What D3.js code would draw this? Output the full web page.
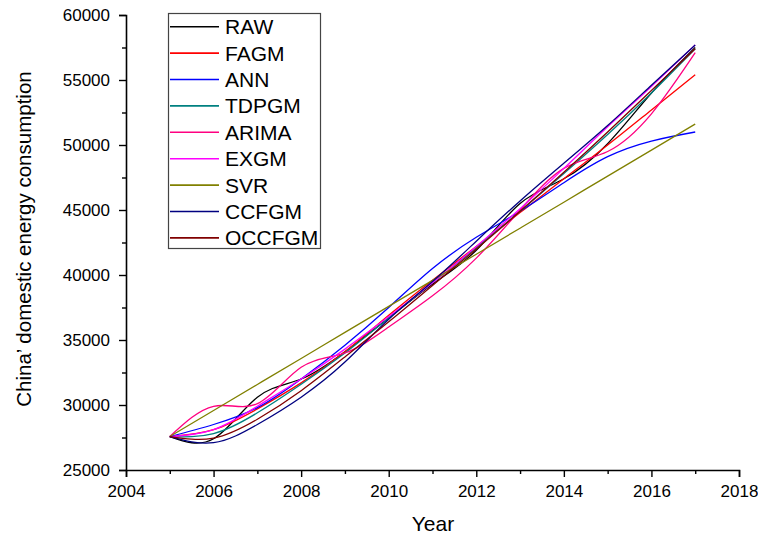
<!DOCTYPE html>
<html>
<head>
<meta charset="utf-8">
<script src="https://cdn.jsdelivr.net/npm/d3@7"></script>
<style>
  body { margin: 0; background: #fff; }
  text { font-family: Arial, "Liberation Sans", sans-serif; fill: #000; }
</style>
</head>
<body>
<script>
// data
var years = [2005, 2006, 2007, 2008, 2009, 2010, 2011, 2012, 2013, 2014, 2015, 2016, 2017];
var raw    = [27573, 27400, 30600, 32000, 34100, 36700, 39300, 41900, 45500, 47400, 50100, 54000, 57500];
var fagm   = [27573, 28100, 29700, 31700, 34100, 36900, 39600, 42200, 44800, 47400, 50000, 52700, 55400];
var ann    = [27573, 28500, 29800, 32000, 34600, 37500, 40500, 42900, 44900, 47100, 49100, 50300, 51000];
var tdpgm  = [27573, 27800, 29400, 31600, 34000, 36700, 39400, 42100, 44900, 47800, 50800, 54000, 57400];
var arima  = [27573, 29900, 30100, 32900, 34000, 36000, 38400, 41300, 45000, 48200, 49500, 52400, 57100];
var exgm   = [27573, 28100, 29900, 32000, 34300, 36800, 39400, 42200, 45100, 48200, 51400, 54500, 57700];
var svr    = [27573, 29580, 31580, 33580, 35590, 37590, 39590, 41600, 43600, 45600, 47610, 49610, 51615];
var ccfgm  = [27573, 27100, 28500, 30600, 33300, 36600, 39500, 42600, 45700, 48600, 51500, 54600, 57700];
var occfgm = [27573, 27450, 28900, 31100, 33700, 36400, 39200, 42000, 44900, 47900, 51000, 54200, 57400];

var names  = ["RAW", "FAGM", "ANN", "TDPGM", "ARIMA", "EXGM", "SVR", "CCFGM", "OCCFGM"];
var colors = ["#000000", "#FF0000", "#0000FF", "#008080", "#FF0080", "#FF00FF", "#808000", "#000080", "#800000"];
var values = [raw, fagm, ann, tdpgm, arima, exgm, svr, ccfgm, occfgm];

var xTicks = [2004, 2006, 2008, 2010, 2012, 2014, 2016, 2018];
var yTicks = [25000, 30000, 35000, 40000, 45000, 50000, 55000, 60000];

var W = 758, H = 540;
var margin = {top: 15, right: 19, bottom: 70, left: 126};
var width = W - margin.left - margin.right;
var height = H - margin.top - margin.bottom;

var svg = d3.select("body")
  .append("svg")
  .attr("width", W)
  .attr("height", H);

var g = svg.append("g")
  .attr("transform", "translate(" + margin.left + "," + margin.top + ")");

var x = d3.scaleLinear().domain([2004, 2018]).range([0, width]);
var y = d3.scaleLinear().domain([25000, 60000]).range([height, 0]);

// minor ticks
var xMinor = d3.range(2005, 2018, 2);
var yMinor = d3.range(27500, 60000, 5000);

var xAxis = g.append("g")
  .attr("transform", "translate(0," + height + ")")
  .call(d3.axisBottom(x).tickValues(xTicks).tickFormat(d3.format("d")).tickSize(7).tickPadding(8));
g.append("g")
  .attr("transform", "translate(0," + height + ")")
  .call(d3.axisBottom(x).tickValues(xMinor).tickFormat("").tickSize(4))
  .select(".domain").remove();

var yAxis = g.append("g")
  .call(d3.axisLeft(y).tickValues(yTicks).tickFormat(d3.format("d")).tickSize(7).tickPadding(9));
g.append("g")
  .call(d3.axisLeft(y).tickValues(yMinor).tickFormat("").tickSize(4))
  .select(".domain").remove();

g.selectAll(".domain").attr("stroke", "#000").attr("stroke-width", 1.6);
g.selectAll(".tick line").attr("stroke", "#000").attr("stroke-width", 1.4);
g.selectAll(".tick text").style("font-size", "17px").style("font-family", "Arial, 'Liberation Sans', sans-serif");

// series
var line = d3.line()
  .x(function(d, i) { return x(years[i]); })
  .y(function(d) { return y(d); })
  .curve(d3.curveNatural);

values.forEach(function(v, i) {
  g.append("path")
    .attr("fill", "none")
    .attr("stroke", colors[i])
    .attr("stroke-width", 1.3)
    .attr("d", line(v));
});

// axis titles
svg.append("text")
  .attr("x", 433)
  .attr("y", 531)
  .style("text-anchor", "middle")
  .style("font-size", "21px")
  .text("Year");

svg.append("text")
  .attr("transform", "translate(31,239) rotate(-90)")
  .style("text-anchor", "middle")
  .style("font-size", "20.5px")
  .text("China\u2019 domestic energy consumption");

// legend
var legend = svg.append("g");
legend.append("rect")
  .attr("x", 168.5)
  .attr("y", 13.5)
  .attr("width", 152)
  .attr("height", 235)
  .attr("fill", "#fff")
  .attr("stroke", "#444")
  .attr("stroke-width", 1.2);

names.forEach(function(n, i) {
  var yy = 26.7 + i * 26.4;
  legend.append("line")
    .attr("x1", 170).attr("x2", 219)
    .attr("y1", yy).attr("y2", yy)
    .attr("stroke", colors[i])
    .attr("stroke-width", 1.6);
  legend.append("text")
    .attr("x", 225)
    .attr("y", yy)
    .attr("dy", "0.36em")
    .style("font-size", "21px")
    .text(n);
});
</script>
</body>
</html>
